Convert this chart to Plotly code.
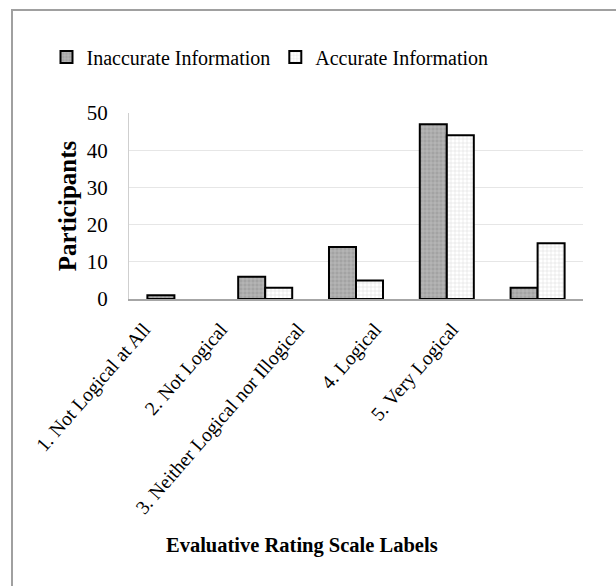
import plotly.graph_objects as go

categories = ["1. Not Logical at All", "2. Not Logical", "3. Neither Logical nor Illogical",
              "4. Logical", "5. Very Logical"]
inaccurate = [1, 6, 14, 47, 3]
accurate = [0, 3, 5, 44, 15]
series_names = ["Inaccurate Information", "Accurate Information"]
y_ticks = [0, 10, 20, 30, 40, 50]

FONT = "Liberation Serif"
W, H = 616, 586
L, R, T, B = 129, 33, 113, 287
PW, PH = W - L - R, H - T - B


def px_x(p):
    return (p - L) / PW


def px_y(p):
    return (H - B - p) / PH


def drawn(values):
    # zero-height bars are not drawn in the reference (no outline line)
    return [None if v == 0 else v for v in values]


fig = go.Figure()
fig.add_trace(go.Bar(
    x=categories, y=drawn(inaccurate), name=series_names[0],
    marker=dict(color="#a3a3a3", line=dict(color="black", width=2),
                pattern=dict(shape="+", fgcolor="#c4c4c4", bgcolor="#a3a3a3",
                             size=4, solidity=0.25, fillmode="replace")),
))
fig.add_trace(go.Bar(
    x=categories, y=drawn(accurate), name=series_names[1],
    marker=dict(color="white", line=dict(color="black", width=2),
                pattern=dict(shape="+", fgcolor="#dedede", bgcolor="white",
                             size=4, solidity=0.25, fillmode="replace")),
))
# invisible carrier for the label axis
fig.add_trace(go.Scatter(x=categories, y=[None] * len(categories), xaxis="x2",
                         showlegend=False, hoverinfo="skip", mode="markers"))

fig.update_layout(
    width=W, height=H,
    margin=dict(l=L, r=R, t=T, b=B, autoexpand=False),
    paper_bgcolor="white", plot_bgcolor="white",
    font=dict(family=FONT, size=20, color="black"),
    barmode="group", bargap=0.405, bargroupgap=0,
    showlegend=True,
    legend=dict(orientation="h", x=px_x(270), xanchor="center", y=px_y(57), yanchor="middle",
                font=dict(family=FONT, size=20, color="black"), itemwidth=30, traceorder="normal",
                bgcolor="rgba(0,0,0,0)"),
    xaxis=dict(type="category", categoryorder="array", categoryarray=categories,
               showticklabels=False, showgrid=False,
               showline=True, linecolor="#a6a6a6", linewidth=2, ticks="", zeroline=False),
    xaxis2=dict(type="category", anchor="y", overlaying="x", side="bottom",
                categoryorder="array", categoryarray=categories,
                range=[-0.195, 5.701], tickangle=-49, showgrid=False, showline=False,
                ticks="outside", ticklen=10, tickcolor="rgba(0,0,0,0)",
                tickfont=dict(family=FONT, size=19.7, color="black"), zeroline=False),
    yaxis=dict(range=[0, 50], tickvals=y_ticks, showgrid=True, gridcolor="#e6e6e6", gridwidth=1,
               showline=True, linecolor="#cfcfcf", linewidth=1, zeroline=False,
               ticks="outside", ticklen=16, tickcolor="rgba(0,0,0,0)",
               tickfont=dict(family=FONT, size=21, color="black"),
               title=dict(text="<b>Participants</b>", font=dict(family=FONT, size=25), standoff=3)),
    shapes=[dict(type="rect", xref="paper", yref="paper",
                 x0=px_x(12), x1=px_x(640), y0=px_y(620), y1=px_y(10),
                 line=dict(color="#a0a0a0", width=2), fillcolor="rgba(0,0,0,0)", layer="below")],
    annotations=[dict(text="<b>Evaluative Rating Scale Labels</b>", xref="paper", yref="paper",
                      x=px_x(302), y=px_y(545), xanchor="center", yanchor="middle",
                      showarrow=False, font=dict(family=FONT, size=20.5, color="black"))],
)

fig.write_html("out.html", config={"displayModeBar": False},
               post_script="document.body.style.margin='0';")
